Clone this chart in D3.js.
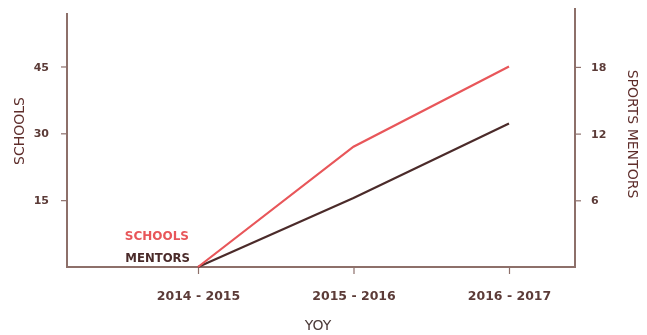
<!DOCTYPE html>
<html>
<head>
<meta charset="utf-8">
<script src="https://cdn.jsdelivr.net/npm/d3@7"></script>
<style>
  html, body { margin: 0; padding: 0; background: #fff; }
  svg { display: block; font-family: "DejaVu Sans", "Open Sans", sans-serif; }
</style>
</head>
<body>
<svg id="chart" width="647" height="335"></svg>
<script>
// Year-over-year growth of schools and sports mentors
const years = ["2014 - 2015", "2015 - 2016", "2016 - 2017"];
const schools = [0, 27, 45];
const mentors = [0, 6.2, 12.9];
const leftTicks = [15, 30, 45];
const rightTicks = [6, 12, 18];

const svg = d3.select("#chart");
const axisColor = "#8d6f6b";
const textColor = "#5b3b37";
const schoolsColor = "#e8575a";
const mentorsColor = "#4b2c2a";
const font = "'DejaVu Sans', sans-serif";

const x0 = 67, x1 = 575, yBase = 267;

const x = d3.scalePoint().domain(years).range([198, 509]);
const yL = d3.scaleLinear().domain([0, 57]).range([yBase, 13]);
const yR = d3.scaleLinear().domain([0, 23.3]).range([yBase, 8]);

const soft = svg.append("defs").append("filter").attr("id", "soft");
soft.append("feGaussianBlur").attr("stdDeviation", 0.45);

const g = svg.append("g").attr("filter", "url(#soft)");

// left axis
const leftAxis = g.append("g").attr("transform", `translate(${x0},0)`)
  .call(d3.axisLeft(yL).tickValues(leftTicks).tickSize(6).tickPadding(12));
// right axis
const rightAxis = g.append("g").attr("transform", `translate(${x1},0)`)
  .call(d3.axisRight(yR).tickValues(rightTicks).tickSize(6).tickPadding(10));
// bottom axis
const bottomAxis = g.append("g").attr("transform", `translate(0,${yBase})`)
  .call(d3.axisBottom(x).tickSize(7).tickPadding(17));
bottomAxis.select(".domain").remove();
g.append("line")
  .attr("x1", x0).attr("x2", x1).attr("y1", yBase).attr("y2", yBase)
  .attr("stroke", axisColor).attr("stroke-width", 2);

[leftAxis, rightAxis].forEach(a => a.select(".domain").remove());
g.append("line").attr("x1", x0).attr("x2", x0).attr("y1", yL.range()[1]).attr("y2", yBase + 1)
  .attr("stroke", axisColor).attr("stroke-width", 2);
g.append("line").attr("x1", x1).attr("x2", x1).attr("y1", yR.range()[1]).attr("y2", yBase + 1)
  .attr("stroke", axisColor).attr("stroke-width", 2);

[leftAxis, rightAxis, bottomAxis].forEach(a => {
  a.attr("font-family", font).attr("font-size", 11).attr("font-weight", "bold");
  a.selectAll(".tick line").attr("stroke", axisColor).attr("stroke-width", 1.2);
  a.selectAll(".tick text").attr("fill", textColor);
});
bottomAxis.attr("font-size", 12.5);

// series lines
const line = (scale) => d3.line().x((d, i) => x(years[i])).y(d => scale(d));
g.append("path").datum(mentors)
  .attr("d", line(yR)).attr("fill", "none")
  .attr("stroke", mentorsColor).attr("stroke-width", 2.2);
g.append("path").datum(schools)
  .attr("d", line(yL)).attr("fill", "none")
  .attr("stroke", schoolsColor).attr("stroke-width", 2.2);

// inline legend
g.append("text").attr("x", 189).attr("y", 240).attr("text-anchor", "end")
  .attr("fill", schoolsColor).style("font-size", "12px").style("font-weight", "bold")
  .text("SCHOOLS");
g.append("text").attr("x", 190).attr("y", 262).attr("text-anchor", "end")
  .attr("fill", mentorsColor).style("font-size", "11.7px").style("font-weight", "bold")
  .text("MENTORS");

// axis titles
g.append("text").attr("transform", `translate(24,131) rotate(-90)`)
  .attr("text-anchor", "middle").attr("fill", "#5e2e2b")
  .style("font-size", "14px").text("SCHOOLS");
g.append("text").attr("transform", `translate(628,134) rotate(90)`)
  .attr("text-anchor", "middle").attr("fill", "#5e2e2b")
  .style("font-size", "14px").text("SPORTS MENTORS");
g.append("text").attr("x", 318).attr("y", 330)
  .attr("text-anchor", "middle").attr("fill", "#4a3a38")
  .style("font-size", "14px").text("YOY");
</script>
</body>
</html>
